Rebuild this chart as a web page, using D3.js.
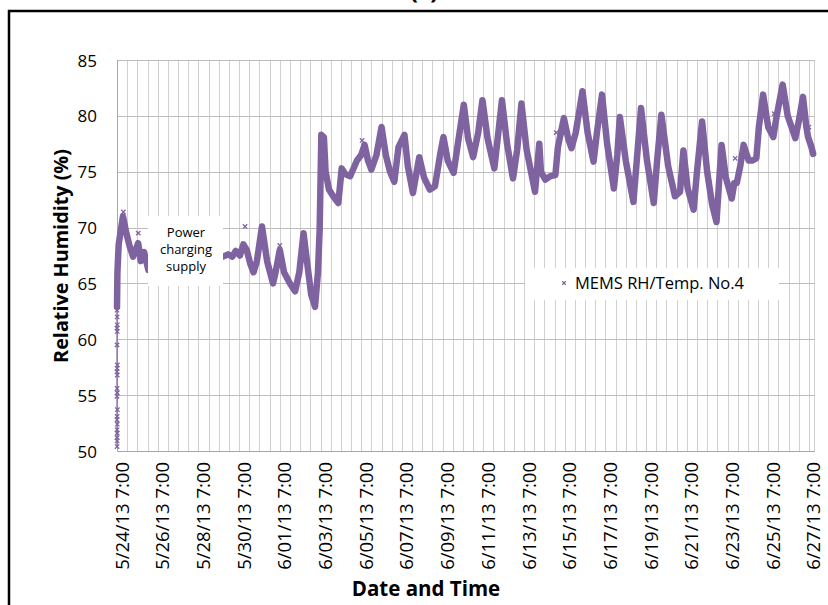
<!DOCTYPE html>
<html><head><meta charset="utf-8">
<script src="https://cdn.jsdelivr.net/npm/d3@7"></script>
<style>
body{margin:0;background:#fff}
svg{display:block}
text{font-family:"Open Sans","Noto Sans",sans-serif;fill:#000}
</style>
</head><body>
<svg id="chart" width="828" height="605"></svg>
<script>
// ---- data ----
const seriesName = "MEMS RH/Temp. No.4";
const times = [
"2013-05-24 07:00","2013-05-24 07:30","2013-05-24 09:00","2013-05-24 14:00","2013-05-24 18:00","2013-05-24 22:00",
"2013-05-25 02:00","2013-05-25 05:00","2013-05-25 08:00","2013-05-25 11:00","2013-05-25 15:00","2013-05-25 20:00",
"2013-05-27 12:00",
"2013-05-29 12:00","2013-05-29 18:00","2013-05-29 23:00","2013-05-30 03:00","2013-05-30 08:00","2013-05-30 12:00",
"2013-05-30 16:00","2013-05-30 20:00","2013-05-31 00:00","2013-05-31 04:00","2013-05-31 10:00","2013-05-31 16:00",
"2013-05-31 23:00","2013-06-01 02:00","2013-06-01 07:00","2013-06-01 12:00","2013-06-01 19:00","2013-06-02 01:00",
"2013-06-02 06:00","2013-06-02 11:00","2013-06-02 15:00","2013-06-02 20:00","2013-06-03 00:30","2013-06-03 04:00",
"2013-06-03 06:00","2013-06-03 08:00","2013-06-03 11:00","2013-06-03 13:00","2013-06-03 17:00","2013-06-03 22:00",
"2013-06-04 04:00","2013-06-04 08:00","2013-06-04 12:00","2013-06-04 18:00","2013-06-05 02:00","2013-06-05 07:00",
"2013-06-05 11:00","2013-06-05 15:00","2013-06-05 19:00","2013-06-06 01:00","2013-06-06 07:00","2013-06-06 12:00",
"2013-06-06 17:00","2013-06-06 22:00","2013-06-07 03:00","2013-06-07 10:00","2013-06-07 14:00","2013-06-07 20:00",
"2013-06-08 03:30","2013-06-08 09:00","2013-06-08 16:00","2013-06-08 22:00","2013-06-09 04:00","2013-06-09 08:00",
"2013-06-09 13:00","2013-06-09 20:00","2013-06-10 01:00","2013-06-10 08:00","2013-06-10 13:00","2013-06-10 19:00",
"2013-06-11 01:00","2013-06-11 06:00","2013-06-11 12:00","2013-06-11 20:00","2013-06-12 00:00","2013-06-12 05:00",
"2013-06-12 11:00","2013-06-12 18:00","2013-06-12 23:00","2013-06-13 04:00","2013-06-13 10:00","2013-06-13 20:00",
"2013-06-14 01:00","2013-06-14 03:00","2013-06-14 08:00","2013-06-14 14:00","2013-06-14 20:00","2013-06-14 23:00",
"2013-06-15 06:00","2013-06-15 11:00","2013-06-15 15:00","2013-06-15 20:00","2013-06-16 04:00","2013-06-16 10:00",
"2013-06-16 17:00","2013-06-16 21:00","2013-06-17 03:00","2013-06-17 09:00","2013-06-17 17:00","2013-06-17 21:00",
"2013-06-18 00:00","2013-06-18 07:00","2013-06-18 16:00","2013-06-18 20:00","2013-06-19 01:00","2013-06-19 08:00",
"2013-06-19 16:00","2013-06-19 20:00","2013-06-20 01:00","2013-06-20 09:00","2013-06-20 17:00","2013-06-20 23:00",
"2013-06-21 03:00","2013-06-21 08:00","2013-06-21 15:00","2013-06-21 19:00","2013-06-22 01:00","2013-06-22 07:00",
"2013-06-22 13:00","2013-06-22 18:00","2013-06-22 21:00","2013-06-23 00:00","2013-06-23 05:00","2013-06-23 12:00",
"2013-06-23 15:00","2013-06-23 18:00","2013-06-23 22:00","2013-06-24 02:00","2013-06-24 08:00","2013-06-24 12:00",
"2013-06-24 17:00","2013-06-24 20:00","2013-06-25 01:00","2013-06-25 07:00","2013-06-25 13:00","2013-06-25 17:00",
"2013-06-26 00:00","2013-06-26 06:00","2013-06-26 15:00","2013-06-26 19:00","2013-06-27 00:00","2013-06-27 04:00",
"2013-06-27 06:00","2013-06-27 10:00","2013-06-27 12:00"
];
const rh = [
62.9,66.0,68.5,71.0,69.5,68.3,
67.4,68.0,68.6,67.0,67.8,66.2,
null,
67.4,67.6,67.4,67.9,67.5,68.5,
68.0,66.8,66.0,67.0,70.1,67.0,
65.0,66.0,68.0,66.0,65.0,64.3,
66.0,69.5,67.0,64.0,62.9,66.0,
69.8,78.3,78.1,75.0,73.4,72.8,
72.2,75.3,74.8,74.6,76.0,76.5,
77.4,76.0,75.2,76.5,79.0,76.5,
75.0,74.1,77.2,78.3,75.5,73.1,
76.3,74.5,73.4,73.7,76.5,78.1,
76.0,74.9,77.5,81.0,78.0,76.3,
78.5,81.4,78.0,75.3,78.0,81.4,
77.5,74.4,77.0,81.1,77.0,73.2,
77.5,75.0,74.3,74.6,74.7,77.2,
79.8,78.0,77.1,78.5,82.2,78.5,
75.9,78.5,81.9,77.5,73.5,76.5,
79.9,76.0,72.3,76.0,80.7,76.0,
72.2,76.0,80.1,75.5,72.8,73.2,
76.9,73.5,71.6,75.0,79.5,75.0,
72.0,70.5,74.0,77.4,74.5,72.6,
74.0,74.0,75.5,77.4,76.0,76.0,
76.2,79.0,81.9,79.0,78.1,80.0,
82.8,80.0,78.0,79.5,81.7,79.0,
78.1,77.2,76.6
];
// scattered single readings (markers off the main band)
const outlierTimes = [
"2013-05-24 07:00","2013-05-24 07:10","2013-05-24 07:20","2013-05-24 07:00","2013-05-24 07:15","2013-05-24 07:05",
"2013-05-24 07:25","2013-05-24 07:10","2013-05-24 07:00","2013-05-24 07:20","2013-05-24 07:05","2013-05-24 07:15",
"2013-05-24 07:00","2013-05-24 07:25","2013-05-24 07:10","2013-05-24 07:00","2013-05-24 07:20","2013-05-24 07:05",
"2013-05-24 07:15","2013-05-24 07:00","2013-05-24 07:10","2013-05-24 07:05",
"2013-05-24 14:30","2013-05-25 08:00","2013-05-30 14:00","2013-06-01 07:00","2013-06-05 08:00","2013-06-14 21:00",
"2013-06-23 16:00","2013-06-25 14:00","2013-06-27 07:00"
];
const outlierRH = [
62.6,62.0,61.3,61.0,60.7,59.5,
57.7,57.4,57.1,56.8,55.6,55.2,
54.9,53.7,53.1,52.8,52.4,51.9,
51.6,51.2,50.9,50.4,
71.4,69.5,70.1,68.4,77.8,78.5,
76.2,80.2,79.0
];
const yTicks = [50,55,60,65,70,75,80,85];
const xTickLabels = ["5/24/13 7:00","5/26/13 7:00","5/28/13 7:00","5/30/13 7:00","6/01/13 7:00","6/03/13 7:00",
"6/05/13 7:00","6/07/13 7:00","6/09/13 7:00","6/11/13 7:00","6/13/13 7:00","6/15/13 7:00","6/17/13 7:00",
"6/19/13 7:00","6/21/13 7:00","6/23/13 7:00","6/25/13 7:00","6/27/13 7:00"];
const xStart = "2013-05-24 07:00", xEnd = "2013-06-27 13:00";
const note = ["Power","charging","supply"];

// ---- drawing ----
const parse = d3.timeParse("%Y-%m-%d %H:%M");
const parseLbl = d3.timeParse("%m/%d/%y %H:%M");
const svg = d3.select("#chart");
const L = 117, R = 814, T = 60, B = 451;
const x = d3.scaleTime().domain([parse(xStart), parse(xEnd)]).range([L, R]);
const y = d3.scaleLinear().domain([50, 85]).range([B, T]);
const purple = "#7f63a1";

// frame and clipped title
svg.append("rect").attr("x",9).attr("y",11).attr("width",840).attr("height",620)
  .attr("fill","none").attr("stroke","#000").attr("stroke-width",2.5);
svg.append("text").attr("x",424).attr("y",-1).attr("text-anchor","middle")
  .style("font-size","24px").style("font-weight","bold").text("(c)");

// vertical gridlines every 12 h
const grid = d3.timeHour.range(parse(xStart), parse(xEnd), 12).slice(1);
svg.append("g").selectAll("line").data(grid).join("line")
  .attr("x1", d => Math.round(x(d)) + 0.5).attr("x2", d => Math.round(x(d)) + 0.5)
  .attr("y1", T).attr("y2", B).attr("stroke", "#d0d0d0").attr("stroke-width", 1);
svg.append("line").attr("x1",R+0.5).attr("x2",R+0.5).attr("y1",T).attr("y2",B).attr("stroke","#d0d0d0");
// horizontal gridlines
svg.append("g").selectAll("line").data(yTicks).join("line")
  .attr("x1", L).attr("x2", R + 1)
  .attr("y1", d => Math.round(y(d)) + 0.5).attr("y2", d => Math.round(y(d)) + 0.5)
  .attr("stroke", "#bdbdbd").attr("stroke-width", 1);
// axis lines
svg.append("line").attr("x1",L+0.5).attr("x2",L+0.5).attr("y1",T).attr("y2",B+1).attr("stroke","#a8a8a8");
svg.append("line").attr("x1",L).attr("x2",R+1).attr("y1",B+0.5).attr("y2",B+0.5).attr("stroke","#a8a8a8");

// y tick labels
svg.append("g").selectAll("text").data(yTicks).join("text")
  .attr("x", 97).attr("y", d => y(d) + 6.5).attr("text-anchor", "end")
  .style("font-size", "17px").text(d => d);

// x tick labels (rotated)
svg.append("g").selectAll("text").data(xTickLabels).join("text")
  .attr("transform", d => `translate(${x(parseLbl(d)) + 11.5},462) rotate(-90)`)
  .attr("text-anchor", "end").style("font-size", "18.5px")
  .text(d => d);

// axis titles
svg.append("text").attr("transform","translate(68,256) rotate(-90)").attr("text-anchor","middle")
  .style("font-size","19.8px").style("font-weight","bold").text("Relative Humidity (%)");
svg.append("text").attr("x",426).attr("y",596).attr("text-anchor","middle")
  .style("font-size","20.5px").style("font-weight","bold").text("Date and Time");

// data line (thick band of markers)
const pts = times.map((t, i) => ({t: parse(t), v: rh[i]}));
const line = d3.line().defined(d => d.v !== null).x(d => x(d.t)).y(d => y(d.v));
svg.append("path").datum(pts).attr("d", line).attr("fill","none")
  .attr("stroke", purple).attr("stroke-width", 6.5).attr("stroke-linejoin","round").attr("stroke-linecap","round");

// scattered markers
const xSym = d3.symbol().type(d3.symbolX || d3.symbolCross).size(14);
const outs = outlierTimes.map((t, i) => ({t: parse(t), v: outlierRH[i]}));
svg.append("g").selectAll("path").data(outs).join("path")
  .attr("transform", d => `translate(${x(d.t)},${y(d.v)})` + (d3.symbolX ? "" : " rotate(45)"))
  .attr("d", xSym).attr("fill", "none").attr("stroke", purple).attr("stroke-width", 1.3);
svg.append("line").attr("x1", x(parse(xStart))).attr("x2", x(parse(xStart)))
  .attr("y1", y(d3.min(outlierRH))).attr("y2", y(rh[0])).attr("stroke", purple).attr("stroke-width", 1.2);

// note box
const nb = svg.append("g");
nb.append("rect").attr("x",148).attr("y",216).attr("width",75).attr("height",70).attr("fill","#fff");
nb.selectAll("text").data(note).join("text").attr("x",186).attr("y",(d,i)=>237+i*17)
  .attr("text-anchor","middle").style("font-size","13px").text(d=>d);

// legend
const lg = svg.append("g");
lg.append("rect").attr("x",525).attr("y",268).attr("width",254).attr("height",32).attr("fill","#fff");
lg.append("path").attr("transform","translate(564,283)" + (d3.symbolX ? "" : " rotate(45)"))
  .attr("d", d3.symbol().type(d3.symbolX || d3.symbolCross).size(10)).attr("fill","none").attr("stroke",purple).attr("stroke-width",1.2);
lg.append("text").attr("x",575).attr("y",289).style("font-size","16.5px").text(seriesName);
</script>
</body></html>
